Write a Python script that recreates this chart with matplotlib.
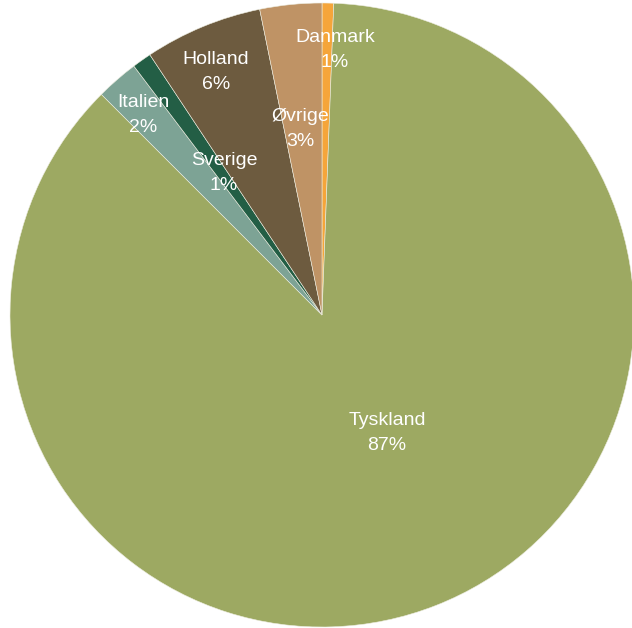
import matplotlib.pyplot as plt

plt.rcParams['font.family'] = ['Liberation Sans', 'DejaVu Sans']

# export share by country, clockwise from 12 o'clock
lande = ["Danmark", "Tyskland", "Italien", "Sverige", "Holland", "Øvrige"]
andele = [0.6, 86.9, 2.2, 1.0, 6.1, 3.2]
farver = ["#F5A53A", "#9DA962", "#7DA395", "#235E45", "#6D5B3F", "#BF9365"]

# where each label sits (pixels, origin bottom-left)
label_pos = [(335, 578), (387, 195), (143, 513), (224, 455), (216, 556), (300, 499)]

fig = plt.figure(figsize=(6.32, 6.28), dpi=100)
ax = fig.add_axes([0, 0, 1, 1])

wedges, _ = ax.pie(andele, colors=farver, startangle=90, counterclock=False,
                   center=(322, 313), radius=312,
                   wedgeprops=dict(edgecolor="#EDEDE0", linewidth=0.4))

for land, v, (x, y) in zip(lande, andele, label_pos):
    ax.text(x, y, f"{land}\n{round(v):.0f}%", ha="center", va="center",
            color="white", fontsize=14, linespacing=1.65)

ax.set_xlim(0, 632)
ax.set_ylim(0, 628)
ax.set_aspect("equal")
ax.axis("off")

fig.savefig("out.png", dpi=100)
